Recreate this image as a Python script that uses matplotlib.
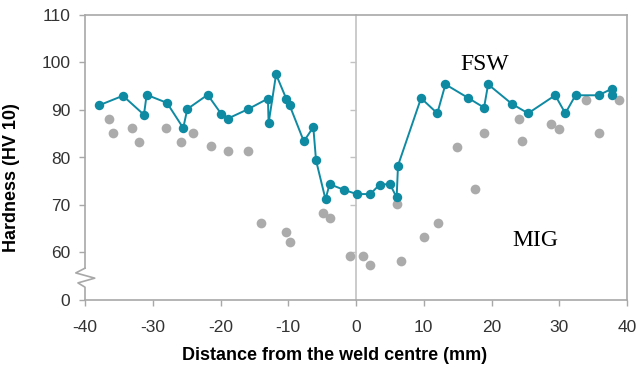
import matplotlib
matplotlib.use("Agg")
import matplotlib.pyplot as plt
import matplotlib.transforms as mtransforms

plt.rcParams['axes.unicode_minus'] = False
plt.rcParams['font.family'] = ['Liberation Sans', 'DejaVu Sans']

# FSW series (distance mm, hardness HV10)
fsw_x = [-37.9, -34.4, -31.3, -30.9, -27.9, -25.5, -24.9, -21.9, -19.9, -18.9,
         -15.9, -13.0, -12.9, -11.8, -10.3, -9.8, -7.7, -6.3, -5.9, -4.5,
         -3.9, -1.8, 0.1, 2.1, 3.5, 5.0, 6.0, 6.2, 9.6, 12.0,
         13.2, 16.6, 18.9, 19.5, 23.0, 25.4, 29.4, 30.9, 32.4, 35.8,
         37.8, 37.8]
fsw_y = [91.0, 93.0, 89.0, 93.2, 91.5, 86.2, 90.2, 93.2, 89.2, 88.2,
         90.2, 92.4, 87.2, 97.5, 92.4, 91.0, 83.4, 86.4, 79.4, 71.2,
         74.4, 73.2, 72.3, 72.3, 74.3, 74.4, 71.6, 78.3, 92.5, 89.3,
         95.4, 92.5, 90.5, 95.4, 91.3, 89.3, 93.1, 89.3, 93.1, 93.1,
         94.5, 93.2]

# MIG series
mig_x = [-36.4, -35.9, -33.0, -32.0, -28.1, -25.9, -24.0, -21.4, -18.9, -15.9,
         -14.0, -10.4, -9.8, -4.9, -3.8, -0.9, 1.1, 2.1, 6.1, 6.6,
         10.0, 12.1, 14.9, 17.5, 18.9, 24.0, 24.5, 28.8, 29.9, 33.9,
         35.9, 38.8]
mig_y = [88.2, 85.1, 86.2, 83.3, 86.2, 83.3, 85.1, 82.4, 81.3, 81.3,
         66.3, 64.3, 62.3, 68.4, 67.3, 59.2, 59.2, 57.4, 70.3, 58.3,
         63.2, 66.3, 82.3, 73.4, 85.1, 88.1, 83.4, 87.1, 86.1, 92.1,
         85.1, 92.1]

x_ticks = [-40, -30, -20, -10, 0, 10, 20, 30, 40]
y_ticks = [50, 60, 70, 80, 90, 100, 110]
y_tick_labels = ['0', '60', '70', '80', '90', '100', '110']

teal = '#0f8aa3'
grey_pt = '#ababab'
spine_c = '#a8a8a8'
txt_c = '#333333'

fig = plt.figure(figsize=(6.39, 3.68), dpi=100)
ax = fig.add_axes([85/639, 1-300/368, 542/639, 285/368])

ax.set_xlim(-40, 40)
ax.set_ylim(50, 110)

ax.plot(mig_x, mig_y, 'o', color=grey_pt, markersize=7, markeredgewidth=0, zorder=3)
ax.plot(fsw_x, fsw_y, '-o', color=teal, markersize=6.8, linewidth=1.4,
        markeredgewidth=0, zorder=4)

ax.set_xticks(x_ticks)
ax.set_xticklabels([str(v) for v in x_ticks])
ax.set_yticks(y_ticks)
ax.set_yticklabels(y_tick_labels)
ax.tick_params(axis='both', direction='out', length=4, width=1, color=spine_c,
               labelsize=12.5, labelcolor=txt_c)
ax.tick_params(axis='x', pad=10.5)
ax.tick_params(axis='y', pad=6.5)

for s in ['top', 'right', 'bottom']:
    ax.spines[s].set_color(spine_c)
    ax.spines[s].set_linewidth(1.2)
ax.spines['left'].set_visible(False)

# centre line with ticks pointing left
ax2 = ax.twinx()
ax2.set_ylim(50, 110)
ax2.spines['right'].set_visible(False)
ax2.spines['top'].set_visible(False)
ax2.spines['bottom'].set_visible(False)
ax2.spines['left'].set_visible(True)
ax2.spines['left'].set_position(('data', 0))
ax2.spines['left'].set_color('#c2c2c2')
ax2.spines['left'].set_linewidth(1.2)
ax2.yaxis.set_ticks_position('left')
ax2.set_yticks([60, 70, 80, 90, 100])
ax2.set_yticklabels([])
ax2.tick_params(axis='y', direction='out', length=4, width=1, color='#c2c2c2')
ax2.set_zorder(ax.get_zorder() - 1)
ax.patch.set_visible(False)

# left spine with break mark
tr = mtransforms.blended_transform_factory(ax.transAxes, ax.transData)
ax.plot([0, 0], [110, 56.7], color=spine_c, lw=1.2, transform=tr, clip_on=False, zorder=5)
ax.plot([0, -0.017, 0.018, -0.013, 0, 0],
        [56.7, 55.7, 54.6, 53.6, 52.7, 50],
        color=spine_c, lw=1.2, transform=tr, clip_on=False, zorder=5)

ax.set_ylabel('Hardness (HV 10)', fontsize=13, fontweight='bold', color='black')
ax.yaxis.set_label_coords(-0.12, 0.428)
ax.set_xlabel('Distance from the weld centre (mm)', fontsize=13, fontweight='bold',
              color='black', va='center')
ax.xaxis.set_label_coords(0.46, -0.193)

ax.text(19.0, 99.5, 'FSW', fontsize=17, family='Liberation Serif', ha='center', va='center')
ax.text(26.4, 62.6, 'MIG', fontsize=17, family='Liberation Serif', ha='center', va='center')

fig.savefig('out.png', dpi=100)
